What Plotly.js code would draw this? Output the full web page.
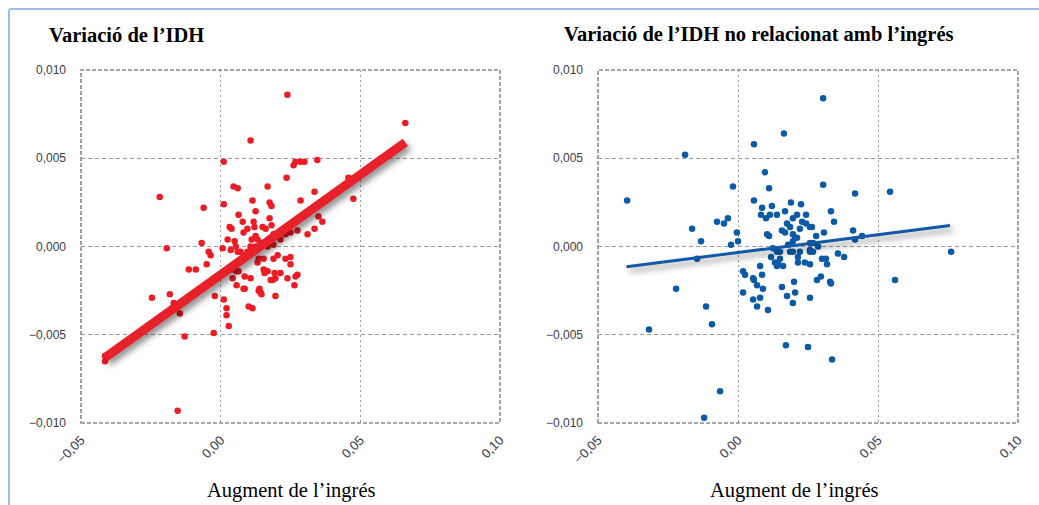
<!DOCTYPE html>
<html>
<head>
<meta charset="utf-8">
<script src="https://cdn.plot.ly/plotly-3.0.1.min.js"></script>
<style>
  html, body { margin: 0; padding: 0; background: #ffffff; }
  #wrap { position: relative; width: 1039px; height: 505px; overflow: hidden; }
  #frame { position: absolute; left: 8px; top: 8px; width: 1100px; height: 600px;
           border-left: 2px solid #9dbfe6; border-top: 2px solid #9dbfe6; border-top-left-radius: 3px; }
  #chart { position: absolute; left: 0; top: 0; width: 1039px; height: 505px; }
</style>
</head>
<body>
<div id="wrap">
  <div id="chart"></div>
  <div id="frame"></div>
</div>
<script>
// ---- Data ----
const titleLeft = "Variació de l’IDH";
const titleRight = "Variació de l’IDH no relacionat amb l’ingrés";
const xAxisTitle = "Augment de l’ingrés";

// Left panel: IDH variation vs income increase
const leftX = [0.0661,0.0239,0.0107,0.0011,0.0261,0.0268,0.0286,0.0300,0.0346,0.0236,0.0457,0.0046,0.0061,0.0168,-0.0218,0.0336,0.0475,-0.0061,0.0011,0.0114,0.0175,0.0182,0.0286,0.0125,0.0064,0.0175,0.0079,0.0032,0.0039,0.0118,0.0121,0.0150,0.0161,0.0182,0.0350,0.0364,0.0336,0.0311,0.0275,0.0082,0.0096,0.0050,0.0132,0.0143,0.0214,0.0232,0.0250,-0.0193,-0.0068,-0.0043,-0.0036,0.0007,0.0036,0.0061,0.0125,0.0168,0.0189,-0.0114,-0.0089,-0.0050,-0.0246,-0.0182,-0.0146,-0.0129,-0.0025,-0.0021,0.0011,0.0021,0.0021,0.0029,-0.0154,-0.0414,-0.0414,0.0043,0.0057,0.0064,0.0086,0.0107,0.0086,0.0100,0.0114,0.0136,0.0143,0.0132,0.0136,0.0154,0.0161,0.0157,0.0186,0.0196,0.0193,0.0214,0.0189,0.0204,0.0232,0.0250,0.0250,0.0239,0.0268,0.0264,0.0025,0.0111,0.0125,0.0107,0.0189,0.0054,0.0071,0.0096,0.0046,0.0057,0.0154,0.0168,0.0275,0.0179,0.0196,0.0082,0.0139,0.0146,-0.0168];
const leftY = [0.0070,0.0086,0.0060,0.0048,0.0046,0.0048,0.0048,0.0048,0.0049,0.0039,0.0039,0.0034,0.0033,0.0034,0.0028,0.0031,0.0027,0.0022,0.0024,0.0026,0.0025,0.0023,0.0026,0.0020,0.0018,0.0016,0.0014,0.0011,0.0010,0.0014,0.0011,0.0011,0.0010,0.0012,0.0017,0.0014,0.0010,0.0007,0.0009,0.0008,0.0010,0.0003,0.0004,0.0002,0.0004,0.0007,0.0008,-0.0001,0.0002,-0.0003,-0.0005,-0.0001,-0.0002,-0.0003,0.0000,0.0000,0.0001,-0.0013,-0.0013,-0.0010,-0.0029,-0.0027,-0.0038,-0.0051,-0.0049,-0.0028,-0.0030,-0.0035,-0.0039,-0.0045,-0.0093,-0.0062,-0.0065,-0.0018,-0.0022,-0.0014,-0.0017,-0.0018,-0.0024,-0.0034,-0.0035,-0.0025,-0.0026,-0.0009,-0.0007,-0.0007,-0.0014,-0.0015,-0.0019,-0.0028,-0.0015,-0.0015,-0.0007,-0.0005,-0.0007,-0.0006,-0.0010,-0.0018,-0.0017,-0.0022,0.0004,0.0004,0.0006,0.0000,0.0007,0.0000,-0.0003,-0.0003,-0.0013,-0.0014,-0.0013,-0.0014,-0.0016,-0.0019,-0.0018,-0.0024,-0.0024,-0.0027,-0.0032];
const leftFitX = [-0.0414, 0.0661];
const leftFitY = [-0.0063, 0.0059];

// Right panel: IDH variation not related to income
const rightX = [0.0304,0.0164,0.0057,-0.0189,0.0096,-0.0018,0.0111,0.0304,0.0418,0.0543,-0.0396,0.0057,0.0086,0.0121,0.0189,0.0225,0.0168,0.0082,0.0100,0.0114,0.0139,0.0211,0.0243,0.0196,0.0229,0.0257,0.0264,0.0332,0.0343,-0.0075,-0.0050,-0.0036,-0.0164,-0.0132,-0.0004,0.0000,-0.0025,0.0104,0.0111,0.0157,0.0175,0.0186,0.0196,0.0204,0.0307,0.0411,0.0418,0.0443,0.0257,0.0268,0.0286,0.0179,0.0196,0.0125,0.0139,0.0150,0.0196,0.0221,0.0257,0.0268,0.0357,0.0379,0.0118,0.0150,0.0300,0.0314,0.0761,0.0561,-0.0146,-0.0221,-0.0318,-0.0114,-0.0093,-0.0064,-0.0121,0.0171,0.0250,0.0336,0.0018,0.0025,0.0018,0.0054,0.0057,0.0068,0.0086,0.0079,0.0054,0.0068,0.0079,0.0089,0.0107,0.0132,0.0139,0.0161,0.0143,0.0157,0.0175,0.0200,0.0204,0.0196,0.0186,0.0214,0.0214,0.0239,0.0257,0.0257,0.0257,0.0282,0.0296,0.0318,0.0329,0.0332,0.0243,0.0221,0.0211,0.0168,0.0279];
const rightY = [0.0084,0.0064,0.0058,0.0052,0.0042,0.0034,0.0033,0.0035,0.0030,0.0031,0.0026,0.0026,0.0022,0.0023,0.0025,0.0024,0.0020,0.0018,0.0016,0.0018,0.0018,0.0018,0.0018,0.0016,0.0014,0.0011,0.0011,0.0020,0.0014,0.0014,0.0013,0.0016,0.0010,0.0003,0.0008,0.0003,0.0001,0.0007,0.0006,0.0009,0.0013,0.0011,0.0007,0.0005,0.0008,0.0009,0.0004,0.0006,0.0002,0.0002,0.0000,0.0001,0.0003,-0.0001,-0.0003,-0.0003,-0.0003,-0.0003,-0.0003,-0.0003,-0.0004,-0.0006,-0.0006,-0.0007,-0.0007,-0.0007,-0.0003,-0.0019,-0.0007,-0.0024,-0.0047,-0.0034,-0.0044,-0.0082,-0.0097,-0.0056,-0.0057,-0.0064,-0.0014,-0.0016,-0.0026,-0.0018,-0.0019,-0.0022,-0.0016,-0.0011,-0.0030,-0.0034,-0.0029,-0.0024,-0.0036,-0.0009,-0.0011,-0.0011,-0.0009,-0.0023,-0.0028,-0.0020,-0.0026,-0.0032,-0.0003,-0.0006,-0.0009,-0.0009,-0.0010,-0.0029,-0.0002,-0.0019,-0.0017,-0.0010,-0.0020,-0.0021,0.0013,0.0010,0.0005,0.0008,0.0006];
const rightFitX = [-0.0398, 0.0757];
const rightFitY = [-0.00115, 0.00119];

const xTickVals = [-0.05, 0.00, 0.05, 0.10];
const yTickVals = [-0.010, -0.005, 0.000, 0.005, 0.010];

// ---- Styling ----
const RED = "#ed1c24";
const BLUE = "#0b5aa8";
const yTickFont = { family: "Liberation Sans, Arial, sans-serif", size: 12, color: "#3a3a4a" };
const xTickFont = { family: "Liberation Sans, Arial, sans-serif", size: 13, color: "#3a3a4a" };
const serif = "Liberation Serif, Times New Roman, serif";

const traces = [
  { x: leftX, y: leftY, xaxis: "x", yaxis: "y", type: "scatter", mode: "markers",
    marker: { color: RED, size: 6.5 }, hoverinfo: "skip" },
  { x: leftFitX, y: leftFitY, xaxis: "x", yaxis: "y", type: "scatter", mode: "lines",
    line: { color: "#e8202a", width: 9 }, hoverinfo: "skip" },
  { x: rightX, y: rightY, xaxis: "x2", yaxis: "y2", type: "scatter", mode: "markers",
    marker: { color: BLUE, size: 6.5 }, hoverinfo: "skip" },
  { x: rightFitX, y: rightFitY, xaxis: "x2", yaxis: "y2", type: "scatter", mode: "lines",
    line: { color: "#1258a4", width: 3 }, hoverinfo: "skip" }
];

const W = 1039, H = 505;
const px = v => v / W;
const py = v => (H - v) / H;

function xAxis(domain) {
  return {
    domain: domain, range: [-0.05, 0.10], tickvals: xTickVals, tickformat: ".2f",
    tickangle: -45, tickfont: xTickFont, ticklabelstandoff: 6,
    showgrid: true, gridcolor: "#9a9a9a", gridwidth: 1,
    griddash: "2px,3px", zeroline: false, showline: false, ticks: "", automargin: false,
    fixedrange: true
  };
}
function yAxis(anchor) {
  return {
    domain: [py(423), py(70)], range: [-0.010, 0.010], tickvals: yTickVals, tickformat: ".3f",
    tickfont: yTickFont, ticklabelstandoff: 14,
    showgrid: true, gridcolor: "#9a9a9a", gridwidth: 1,
    griddash: "4px,3px", zeroline: false, showline: false, ticks: "", automargin: false,
    anchor: anchor, fixedrange: true
  };
}

const layout = {
  width: W, height: H,
  margin: { l: 0, r: 0, t: 0, b: 0 },
  paper_bgcolor: "rgba(0,0,0,0)", plot_bgcolor: "#ffffff",
  showlegend: false,
  separators: ",.",
  xaxis: Object.assign(xAxis([px(81), px(500)]), { anchor: "y" }),
  yaxis: yAxis("x"),
  xaxis2: Object.assign(xAxis([px(598), px(1018)]), { anchor: "y2" }),
  yaxis2: yAxis("x2"),
  shapes: [
    { type: "rect", xref: "x domain", yref: "y domain", x0: 0, x1: 1, y0: 0, y1: 1,
      line: { color: "#8c8c8c", width: 1.6, dash: "4px,2px" }, layer: "above" },
    { type: "rect", xref: "x2 domain", yref: "y2 domain", x0: 0, x1: 1, y0: 0, y1: 1,
      line: { color: "#8c8c8c", width: 1.6, dash: "4px,2px" }, layer: "above" }
  ],
  annotations: [
    { text: "<b>" + titleLeft + "</b>", xref: "paper", yref: "paper", x: px(47), y: py(35),
      xanchor: "left", yanchor: "middle", showarrow: false,
      font: { family: serif, size: 20.5, color: "#000" } },
    { text: "<b>" + titleRight + "</b>", xref: "paper", yref: "paper", x: px(562), y: py(35),
      xanchor: "left", yanchor: "middle", showarrow: false,
      font: { family: serif, size: 20.5, color: "#000" } },
    { text: xAxisTitle, xref: "paper", yref: "paper", x: px(291), y: py(490),
      xanchor: "center", yanchor: "middle", showarrow: false,
      font: { family: serif, size: 20.5, color: "#000" } },
    { text: xAxisTitle, xref: "paper", yref: "paper", x: px(794), y: py(490),
      xanchor: "center", yanchor: "middle", showarrow: false,
      font: { family: serif, size: 20.5, color: "#000" } }
  ]
};

Plotly.newPlot("chart", traces, layout, { displayModeBar: false, staticPlot: true }).then(() => {
  document.querySelectorAll("#chart .scatterlayer .js-line").forEach(p => {
    p.style.filter = "drop-shadow(3px 4px 3px rgba(0,0,0,0.45))";
  });
});
</script>
</body>
</html>
